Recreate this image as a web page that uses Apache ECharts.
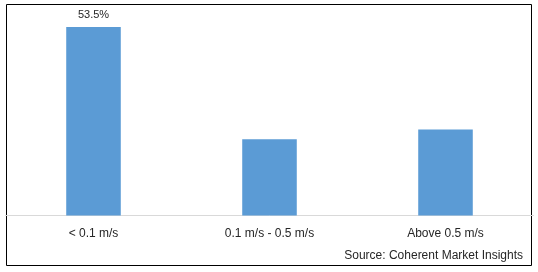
<!DOCTYPE html>
<html><head><meta charset="utf-8">
<script src="https://cdn.jsdelivr.net/npm/echarts@6/dist/echarts.min.js"></script>
<style>html,body{margin:0;padding:0;background:#fff}#c{width:538px;height:272px}</style>
</head><body><div id="c"></div>
<script>
const categories = ["< 0.1 m/s", "0.1 m/s - 0.5 m/s", "Above 0.5 m/s"];
const values = [53.5, 21.6, 24.4];
const labelled = ["53.5%", "", ""];
const sourceText = "Source: Coherent Market Insights";

const chart = echarts.init(document.getElementById('c'), null, {renderer: 'canvas'});
const font = "'Liberation Sans', Arial, sans-serif";
chart.setOption({
  animation: false,
  grid: {left: 5.5, right: 4.5, top: 4, bottom: 56.5, containLabel: false},
  xAxis: {
    type: 'category', data: categories,
    axisLine: {lineStyle: {color: '#d9d9d9', width: 1}},
    axisTick: {show: false},
    axisLabel: {color: '#262626', fontSize: 12, fontFamily: font, margin: 12}
  },
  yAxis: {type: 'value', min: 0, max: 60, show: false, splitLine: {show: false}},
  series: [{
    type: 'bar', data: values, barWidth: '31%',
    itemStyle: {color: '#5B9BD5'},
    label: {show: true, position: 'top', distance: 6, color: '#262626', fontSize: 11, fontFamily: font,
      formatter: p => labelled[p.dataIndex]}
  }],
  graphic: [
    {type: 'rect', shape: {x: 6.5, y: 4.5, width: 525, height: 261}, style: {fill: null, stroke: '#000', lineWidth: 1}, silent: true},
    {type: 'text', right: 15, top: 250, style: {text: sourceText, fill: '#262626', font: "12px " + font}}
  ]
});
</script></body></html>
